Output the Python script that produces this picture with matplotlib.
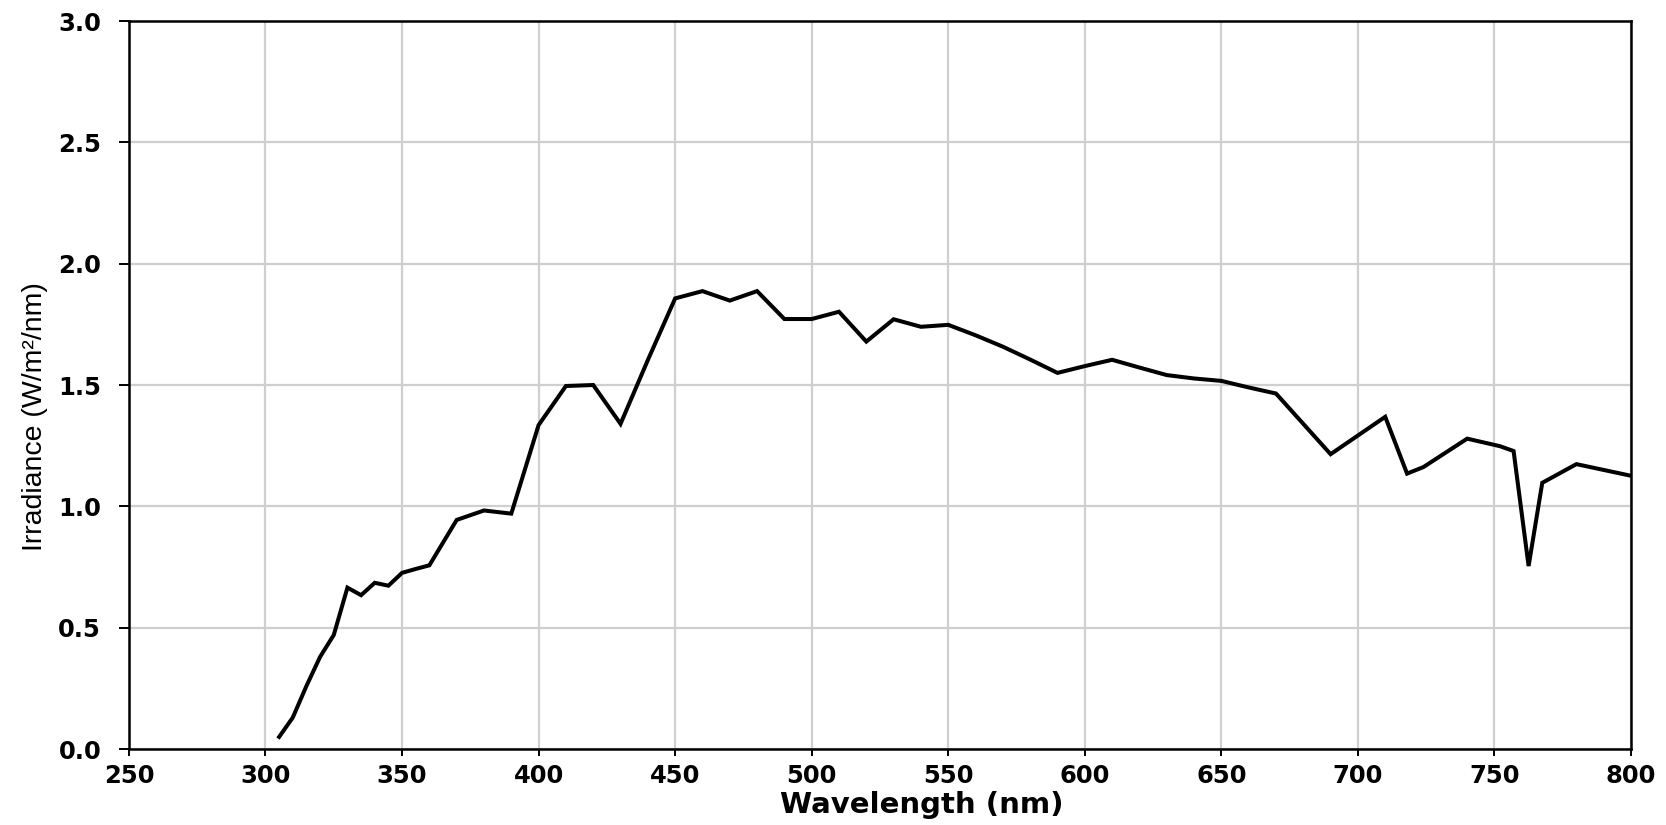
import matplotlib
matplotlib.use('Agg')
import matplotlib.pyplot as plt
import numpy as np

# spectrum
wavelength = [305, 310, 315, 320, 325, 330, 335, 340, 345, 350, 355, 360, 370, 380, 390,
              400, 410, 420, 430, 440, 450, 460, 470, 480, 490, 500, 510, 520, 530, 540,
              550, 560, 570, 580, 590, 600, 610, 620, 630, 640, 650, 660, 670, 690, 710,
              718, 724, 740, 752, 757, 762.5, 767.5, 780, 800]
irradiance = [0.05, 0.13, 0.26, 0.38, 0.47, 0.665, 0.634, 0.685, 0.673, 0.726, 0.742, 0.757,
              0.944, 0.983, 0.97, 1.335, 1.496, 1.50, 1.34, 1.603, 1.857, 1.887, 1.848, 1.887,
              1.772, 1.772, 1.802, 1.679, 1.771, 1.740, 1.748, 1.705, 1.658, 1.605, 1.550,
              1.578, 1.604, 1.572, 1.541, 1.527, 1.517, 1.49, 1.465, 1.215, 1.369, 1.135,
              1.162, 1.279, 1.248, 1.228, 0.754, 1.097, 1.174, 1.126]

xticks = np.arange(250, 801, 50)
yticks = np.arange(0, 3.01, 0.5)


def irradiance_plot():
  plt.rcParams['font.family'] = ['DejaVu Sans']
  fig = plt.figure(figsize=(16.66, 8.25), dpi=100)
  ax = fig.add_axes([0.0774, 0.0921, 0.9016, 0.8824])
  ax.plot(wavelength, irradiance, color='black', lw=2.9, solid_joinstyle='miter')
  ax.set_xlim(250, 800)
  ax.set_ylim(0, 3.0)
  ax.set_xticks(xticks)
  ax.set_yticks(yticks)
  ax.set_xticklabels([str(v) for v in xticks], fontsize=17.5, fontweight='bold')
  ax.set_yticklabels(['%.1f' % v for v in yticks], fontsize=17.5, fontweight='bold')
  ax.tick_params(axis='both', direction='out', width=1.4, color='black')
  ax.tick_params(axis='y', length=7, pad=13)
  ax.tick_params(axis='x', length=5, pad=6)
  ax.grid(color='#cfcfcf', lw=1.6)
  ax.set_axisbelow(True)
  for s in ax.spines.values():
    s.set_linewidth(1.8)
  ax.set_xlabel('Wavelength (nm)', fontsize=21, fontweight='bold', labelpad=2)
  ax.xaxis.label.set_x(0.528)
  ax.set_ylabel('Irradiance (W/m²/nm)', fontsize=20.5,
                family=['Liberation Sans Narrow', 'Liberation Sans', 'DejaVu Sans'])
  ax.yaxis.set_label_coords(-0.054, 0.457)
  fig.savefig('out.png', dpi=100)


if __name__ == '__main__':
  irradiance_plot()
